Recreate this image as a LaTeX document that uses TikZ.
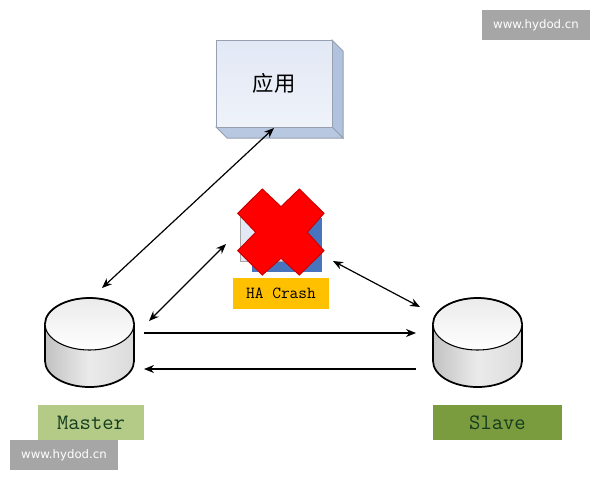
\documentclass[tikz,border=0pt]{standalone}
\usepackage{fontspec}
\newfontfamily\cjkfont{Noto Sans CJK SC}
\newfontfamily\markfont{DejaVu Sans}
\usetikzlibrary{arrows.meta}
\definecolor{frontblue}{RGB}{226,232,245}
\definecolor{sideblue}{RGB}{176,194,222}
\definecolor{edgegray}{RGB}{150,160,175}
\definecolor{haorange}{RGB}{255,192,0}
\definecolor{hablue}{RGB}{72,116,190}
\definecolor{masterleaf}{RGB}{179,203,134}
\definecolor{slaveleaf}{RGB}{122,155,62}
\definecolor{markgray}{RGB}{166,166,166}
\definecolor{nameink}{RGB}{20,60,30}
\tikzset{
  every picture/.style={line width=0.75pt},
  link/.style={{Stealth[length=7.5pt,width=6pt]}-{Stealth[length=7.5pt,width=6pt]},line width=0.9pt},
  flow/.style={-{Stealth[length=7.5pt,width=6pt]},line width=0.9pt},
  dbname/.style={inner sep=0pt,text=nameink,font=\ttfamily\fontsize{16.5}{18}\selectfont},
  watermark/.style={fill=markgray,text=white,inner sep=0pt,minimum width=81pt,minimum height=22.5pt,font=\markfont\fontsize{8.8}{10}\selectfont},
}
% one database drum, #1 = left edge of the drum
\newcommand{\drawdrum}[1]{
  \draw [line width=1.3pt,left color=black!24,right color=black!14,middle color=black!8]
    (#1,324) -- (#1,361) arc [start angle=180,end angle=0,x radius=44.5,y radius=26] -- (#1+89,324) -- cycle ;
  \draw [line width=0.8pt,top color=black!8,bottom color=white] (#1+44.5,324) ellipse [x radius=44.5,y radius=26] ;
  \draw [line width=1.3pt] (#1,324) arc [start angle=180,end angle=360,x radius=44.5,y radius=26] ;
}
\begin{document}
\begin{tikzpicture}[x=0.75pt,y=0.75pt,yscale=-1,xscale=1]
\useasboundingbox (0,0) rectangle (600,480);

%Application box
\draw [edgegray,fill=sideblue] (332,40) -- (343,51) -- (343,138) -- (332,127) -- cycle ;
\draw [edgegray,fill=sideblue!90!white] (216,127) -- (332,127) -- (343,138) -- (227,138) -- cycle ;
\node (app) at (274,83.5) [draw=edgegray,top color=frontblue,bottom color=frontblue!55!white,minimum width=87pt,minimum height=65.25pt,inner sep=0pt,font=\cjkfont\fontsize{16}{18}\selectfont] {应用};

%HA icon
\fill [hablue] (252,218) rectangle (322,272) ;
\draw [color=black!35,fill=frontblue] (240,217) rectangle (290,261) ;
\fill [red,draw=red!80!black] (262.3,189) -- (281,206.7) -- (299.3,189) -- (324,213.3) -- (307.3,232.3) -- (324,250.7) -- (299.3,275) -- (281,258.3) -- (262.3,275) -- (237.7,250.7) -- (255.7,232.3) -- (237.7,213.3) -- cycle ;
\node (hacrash) at (281,293.5) [fill=haorange,minimum width=72pt,minimum height=23.25pt,inner sep=0pt,font=\ttfamily\fontsize{12.7}{14}\selectfont] {HA Crash};

%Drums
\drawdrum{45}
\drawdrum{433}

%Labels
\node (master) at (91,422.5) [dbname,fill=masterleaf,minimum width=79.5pt,minimum height=26.25pt] {Master};
\node (slave) at (497.5,422.5) [dbname,fill=slaveleaf,minimum width=96.75pt,minimum height=26.25pt] {Slave};

%Connector ends
\coordinate (append) at (274,128);
\coordinate (mastertop) at (102,288);
\coordinate (haleft) at (226,244);
\coordinate (masterha) at (149,321);
\coordinate (haright) at (333,261);
\coordinate (slaveha) at (420,307);
\coordinate (masterout) at (144,333);
\coordinate (slavein) at (416,333);
\coordinate (slaveout) at (416,369);
\coordinate (masterin) at (144,369);

\draw [link] (append) -- (mastertop) ;
\draw [link] (haleft) -- (masterha) ;
\draw [link] (haright) -- (slaveha) ;
\draw [flow] (masterout) -- (slavein) ;
\draw [flow] (slaveout) -- (masterin) ;

%Watermarks
\node (marktop) at (536,25) [watermark] {www.hydod.cn};
\node (markbottom) at (64,455) [watermark] {www.hydod.cn};

\end{tikzpicture}
\end{document}
